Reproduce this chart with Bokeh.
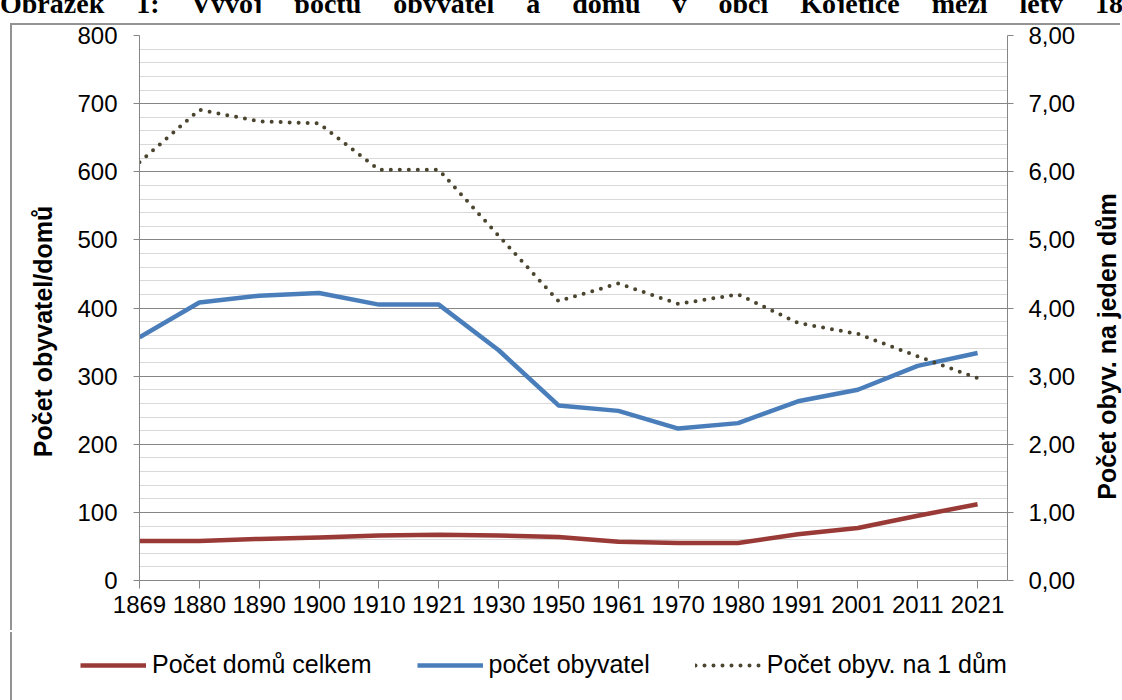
import math
from bokeh.plotting import figure
from bokeh.layouts import column
from bokeh.models import (Range1d, LinearAxis, Legend, LegendItem, Div, Label,
                          FixedTicker, SingleIntervalTicker)
from bokeh.embed import file_html
from bokeh.resources import INLINE

# ---- data ----
years = ["1869", "1880", "1890", "1900", "1910", "1921", "1930", "1950",
         "1961", "1970", "1980", "1991", "2001", "2011", "2021"]
domy = [58, 58, 61, 63, 66, 67, 66, 64, 57, 55, 55, 68, 77, 95, 112]
obyvatel = [357, 408, 418, 422, 405, 405, 338, 257, 249, 223, 231, 263, 280, 315, 334]
na_dum = [6.14, 6.91, 6.74, 6.71, 6.03, 6.03, 5.06, 4.10, 4.36, 4.06, 4.20, 3.78,
          3.62, 3.29, 2.97]
right_ticks = [0, 1, 2, 3, 4, 5, 6, 7, 8]
right_labels = ["0,00", "1,00", "2,00", "3,00", "4,00", "5,00", "6,00", "7,00", "8,00"]
series_names = ["Počet domů celkem", "počet obyvatel", "Počet obyv. na 1 dům"]
series_colors = ["#993a37", "#4a7ebb", "#4b4530"]
left_title = "Počet obyvatel/domů"
right_title = "Počet obyv. na jeden dům"
caption = "Obrázek 1: Vývoj počtu obyvatel a domů v&nbsp;obci Kojetice mezi lety 1869"

xs = list(range(len(years)))

FONT = "Liberation Sans"
GRID_DARK = "#868686"
GRID_LIGHT = "#d9d9d9"
BOX = "#939393"

# clipped caption line above the chart box
cap = Div(text=(
    '<div style="width:1122px;height:13px;overflow:hidden;position:relative;">'
    '<div style="position:absolute;left:0;top:-10px;width:1151px;'
    "font-family:'Liberation Serif';font-weight:bold;font-size:28px;line-height:28px;"
    'text-align:justify;text-align-last:justify;color:black;">'
    + caption + '</div></div>'),
    width=1122, height=13, margin=0)

p = figure(width=1110, height=607, output_backend="svg", toolbar_location=None,
           x_range=Range1d(0, 14.5), y_range=Range1d(0, 800),
           min_border_left=127, min_border_right=115, min_border_top=10,
           min_border_bottom=52, margin=(12, 0, 0, 12),
           styles={"box-shadow": f"-2px -2px 0 0 {BOX}"})
p.outline_line_color = None

# left axis
yax = p.yaxis[0]
yax.ticker = SingleIntervalTicker(interval=100, num_minor_ticks=5)
yax.axis_line_color = GRID_DARK
yax.major_tick_line_color = GRID_DARK
yax.major_tick_out = 6
yax.major_tick_in = 0
yax.minor_tick_line_color = None
yax.major_label_text_font = FONT
yax.major_label_text_font_size = "24px"
yax.major_label_text_color = "black"
yax.major_label_standoff = 16

p.ygrid.ticker = yax.ticker
p.ygrid.grid_line_color = GRID_DARK
p.ygrid.minor_grid_line_color = GRID_LIGHT
p.xgrid.grid_line_color = None

# x axis
xax = p.xaxis[0]
xax.ticker = FixedTicker(ticks=xs)
xax.major_label_overrides = {i: y for i, y in zip(xs, years)}
xax.axis_line_color = GRID_DARK
xax.major_tick_line_color = GRID_DARK
xax.major_tick_out = 8
xax.major_tick_in = 0
xax.minor_tick_line_color = None
xax.major_label_text_font = FONT
xax.major_label_text_font_size = "24px"
xax.major_label_text_color = "black"
xax.major_label_standoff = 7

# right axis
p.extra_y_ranges = {"r": Range1d(0, 8)}
rax = LinearAxis(y_range_name="r", ticker=FixedTicker(ticks=right_ticks),
                 major_label_overrides={t: l for t, l in zip(right_ticks, right_labels)})
rax.axis_line_color = GRID_DARK
rax.major_tick_line_color = GRID_DARK
rax.major_tick_out = 6
rax.major_tick_in = 0
rax.minor_tick_line_color = None
rax.major_label_text_font = FONT
rax.major_label_text_font_size = "24px"
rax.major_label_text_color = "black"
rax.major_label_standoff = 15
p.add_layout(rax, "right")

# axis titles, both reading bottom-to-top, placed in the side panels
px_x = 868 / 14.5      # frame pixels per category step
px_y = 545 / 800       # frame pixels per unit on the left scale
p.add_layout(Label(x=(42 - 139) / px_x, y=(580 - 331) / px_y, text=left_title,
                   angle=math.pi / 2, text_align="center", text_baseline="middle",
                   text_font=FONT, text_font_style="bold", text_font_size="25px",
                   text_color="black"), "left")
p.add_layout(Label(x=(1106 - 139) / px_x, y=(580 - 346) / px_y, text=right_title,
                   angle=math.pi / 2, text_align="center", text_baseline="middle",
                   text_font=FONT, text_font_style="bold", text_font_size="25px",
                   text_color="black"), "right")

# series
p.line(xs, domy, line_color=series_colors[0], line_width=4.5, line_join="round")
p.line(xs, obyvatel, line_color=series_colors[1], line_width=4.5, line_join="round")
p.line(xs, na_dum, y_range_name="r", line_color=series_colors[2], line_width=4,
       line_dash="0 9", line_cap="round")

# legend strip below the chart; its key lines reuse the series, which stay
# outside this strip's visible range
lf = figure(width=1110, height=68, output_backend="svg", toolbar_location=None,
            x_axis_type=None, y_axis_type=None, min_border=0,
            min_border_left=0, min_border_right=0, min_border_top=0, min_border_bottom=0,
            x_range=Range1d(0, 1), y_range=Range1d(-1, 0), margin=(0, 0, 0, 12),
            styles={"box-shadow": f"-2px 0 0 0 {BOX}"})
lf.frame_align = False
p.frame_align = False
lf.outline_line_color = None
lf.grid.grid_line_color = None
k1 = lf.line(xs, domy, line_color=series_colors[0], line_width=4.5)
k2 = lf.line(xs, obyvatel, line_color=series_colors[1], line_width=4.5)
k3 = lf.line(xs, na_dum, line_color=series_colors[2], line_width=4, line_dash="0 9",
             line_cap="round")
legend = Legend(items=[LegendItem(label=series_names[0], renderers=[k1]),
                       LegendItem(label=series_names[1], renderers=[k2]),
                       LegendItem(label=series_names[2], renderers=[k3])],
                orientation="horizontal", location=(68, 21),
                padding=0, margin=0, spacing=45, glyph_width=66, glyph_height=20,
                label_standoff=6, border_line_color=None, background_fill_alpha=0,
                label_text_font=FONT, label_text_font_size="25px",
                label_text_color="black")
lf.add_layout(legend)

layout = column(cap, p, lf, spacing=0)
open("out.html", "w").write(file_html(layout, INLINE))
